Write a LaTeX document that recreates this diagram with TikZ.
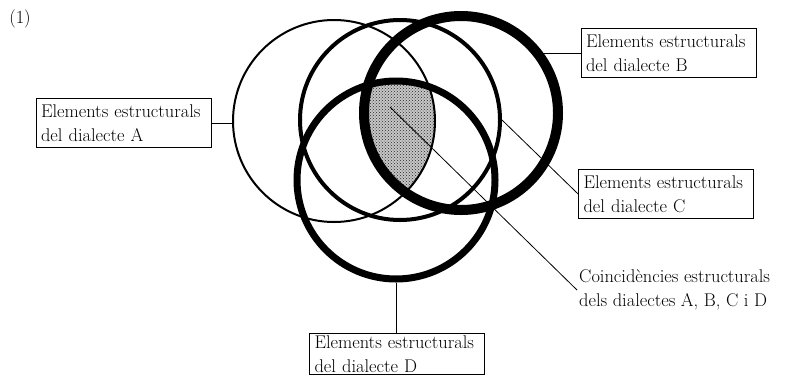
\documentclass[tikz,border=0pt]{standalone}
\usepackage{tikz}
\usetikzlibrary{positioning,patterns,calc}
\tikzset{dbox/.style={draw,line width=0.8pt,align=left,text width=165pt,inner xsep=5pt,inner ysep=6pt},link/.style={draw,line width=0.8pt},ring/.style={circle,draw,inner sep=0pt,fill=none}}

\begin{document}
\begin{tikzpicture}[x=1pt,y=-1pt,font=\fontsize{18.4}{24}\selectfont,note/.style={align=left,inner sep=2pt}]
\useasboundingbox (0,0) rectangle (791,378);
% common part of the four sets
\begin{scope}
\clip (334,121) circle[radius=101pt];
\clip (400,120) circle[radius=100pt];
\clip (396,180) circle[radius=99pt];
\clip (461,113) circle[radius=97pt];
\fill[black!22] (280,0) rectangle (520,300);
\fill[pattern=crosshatch dots,pattern color=black!85] (280,0) rectangle (520,300);
\end{scope}
\foreach \id/\x/\y/\d/\w in {A/334/121/202/2,C/400/120/200/4,D/396/180/198/7,B/461/113/194/10}{\node[ring,minimum size=\d pt,line width=\w pt] (c\id) at (\x,\y) {};}
\node[note] (num) at (20,19) {(1)};
\node[dbox] (bA) at (123.5,123) {Elements estructurals\\del dialecte A};
\node[dbox] (bB) at (668.5,53) {Elements estructurals\\del dialecte B};
\node[dbox] (bC) at (666,194) {Elements estructurals\\del dialecte C};
\node[dbox,anchor=north,inner ysep=2pt] (bD) at (397,333) {Elements estructurals\\del dialecte D};
\node[note,anchor=west] (tABCD) at (577,290) {Coincidències estructurals\\dels dialectes A, B, C i D};
\coordinate (core) at (390,107);
\draw[link] (bA.east)--(bA.east-|cA.west);
\draw[link] (cB.37|-bB.west)--(bB.west);
\draw[link] (cC.east)--(bC.west);
\draw[link] (cD.south)--(cD.south|-bD.north);
\draw[link] (core)--(tABCD.west);
\end{tikzpicture}
\end{document}
